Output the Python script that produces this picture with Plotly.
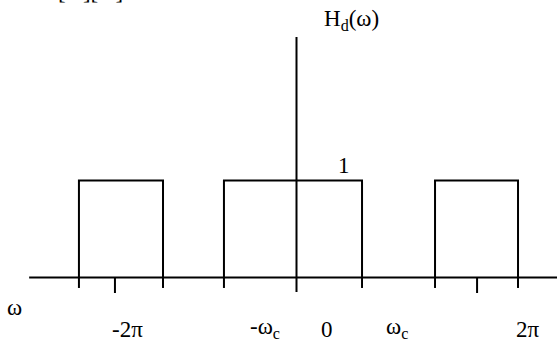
import plotly.graph_objects as go

# Ideal lowpass response H_d(ω), periodic in 2π; ω measured in units of π
band_start = [-2.417, -0.806, 1.539]
band_end = [-1.483, 0.728, 2.461]
band_gain = [1, 1, 1]

# Extra tick marks under the axis at ±2π
period_ticks = [-2.017, 2.006]

# Free-standing labels along the bottom
label_text = ["-2π", "-ω<sub>c</sub>", "0", "ω<sub>c</sub>", "2π"]
label_x = [-1.883, -0.35, 0.339, 1.117, 2.572]
label_y = -0.686

axis_x = [-2.97, 3.0]
axis_y = [-0.15, 2.48]

FONT = "Liberation Serif"
SIZE = 23
LINE = dict(color="black", width=2)

fig = go.Figure()

# Passband rectangles
for a, b, g in zip(band_start, band_end, band_gain):
    fig.add_trace(go.Scatter(x=[a, a, b, b], y=[0, g, g, 0], mode="lines",
                             line=LINE, hoverinfo="skip"))
    # short ticks continuing each edge below the axis
    for e in (a, b):
        fig.add_trace(go.Scatter(x=[e, e], y=[0, -0.108], mode="lines",
                                 line=LINE, hoverinfo="skip"))

for t in period_ticks:
    fig.add_trace(go.Scatter(x=[t, t], y=[0, -0.16], mode="lines",
                             line=LINE, hoverinfo="skip"))

# ω axis and H axis
fig.add_trace(go.Scatter(x=axis_x, y=[0, 0], mode="lines", line=LINE, hoverinfo="skip"))
fig.add_trace(go.Scatter(x=[0, 0], y=axis_y, mode="lines", line=LINE, hoverinfo="skip"))

font = dict(family=FONT, size=SIZE, color="black")
annotations = []
for txt, x in zip(label_text, label_x):
    annotations.append(dict(x=x, y=label_y, text=txt, showarrow=False,
                            yanchor="bottom", font=font))
annotations += [
    dict(x=-3.128, y=-0.314, text="ω", showarrow=False, font=font),
    dict(x=0.528, y=1.15, text="1", showarrow=False, font=font),
    dict(x=0.606, y=2.655, text="H<sub>d</sub>(ω)", showarrow=False, font=font),
    dict(x=-2.294, y=2.80,
         text="[&nbsp;&nbsp;&nbsp;][&nbsp;&nbsp;&nbsp;]",
         showarrow=False, yanchor="bottom", font=font),
]

fig.update_layout(
    width=557, height=345,
    margin=dict(l=0, r=0, t=0, b=0),
    paper_bgcolor="white", plot_bgcolor="white",
    showlegend=False,
    xaxis=dict(range=[-3.294, 2.894], visible=False, fixedrange=True),
    yaxis=dict(range=[-0.696, 2.861], visible=False, fixedrange=True),
    annotations=annotations,
)

fig.write_html("out.html")
